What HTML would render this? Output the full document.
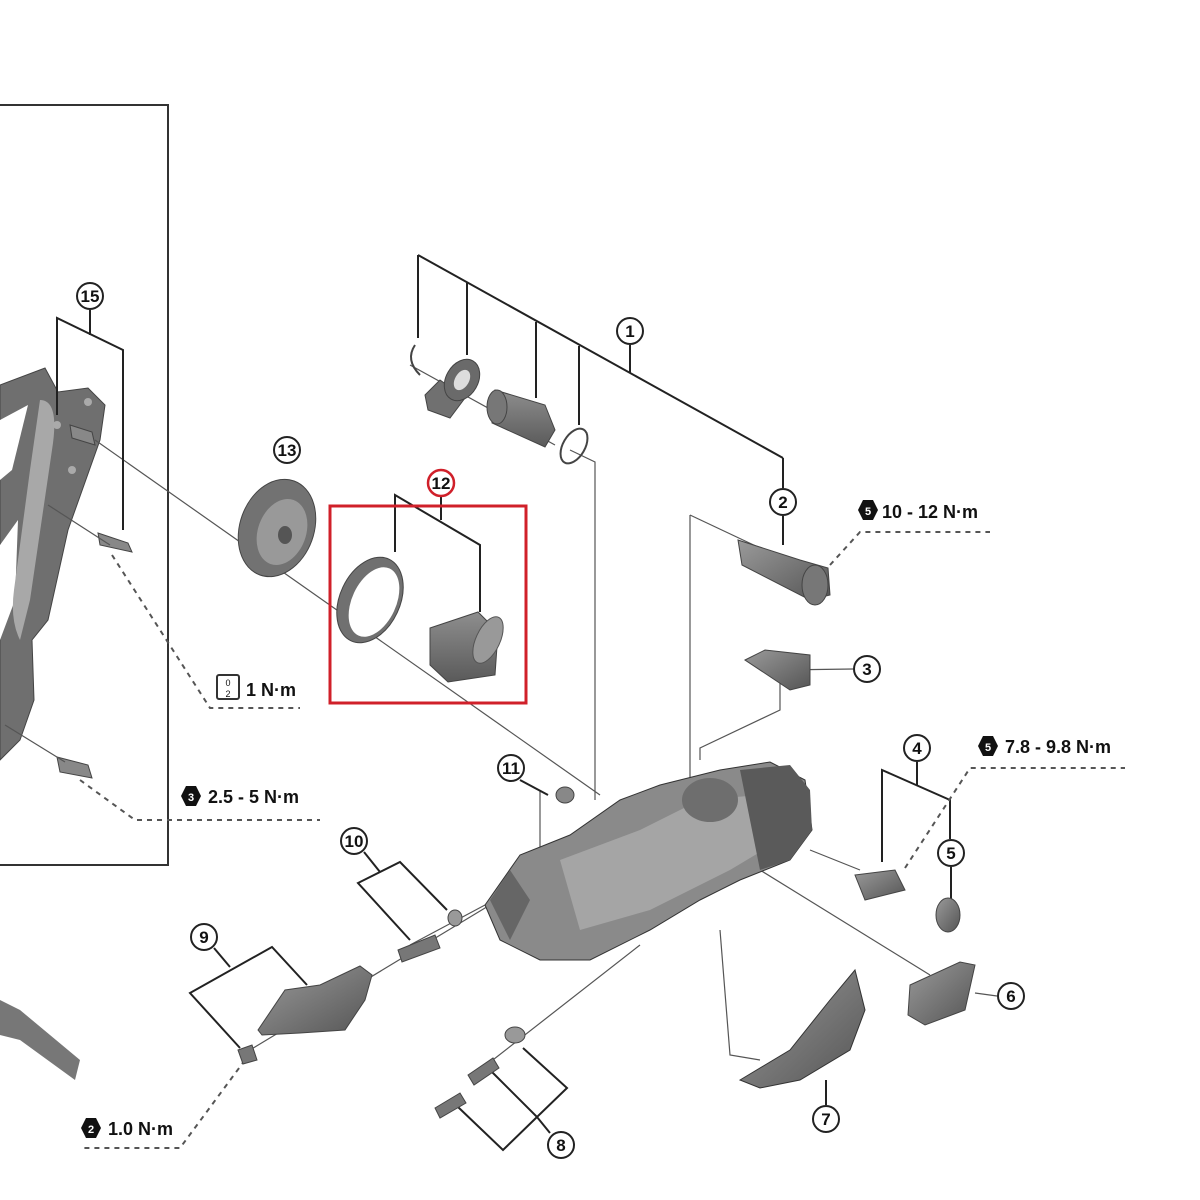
<!DOCTYPE html>
<html><head><style>
html,body{margin:0;padding:0;background:#fff;width:1200px;height:1200px;overflow:hidden}
svg{display:block}
text{font-family:"Liberation Sans",sans-serif}
</style></head><body>
<svg width="1200" height="1200" viewBox="0 0 1200 1200" xmlns="http://www.w3.org/2000/svg">
<defs>
<linearGradient id="g" x1="0" y1="0" x2="1" y2="1"><stop offset="0" stop-color="#9a9a9a"/><stop offset="1" stop-color="#555"/></linearGradient>
<linearGradient id="g2" x1="0" y1="0" x2="0" y2="1"><stop offset="0" stop-color="#8e8e8e"/><stop offset="1" stop-color="#5a5a5a"/></linearGradient>
</defs>
<!-- left box -->
<polyline points="0,105 168,105 168,865 0,865" fill="none" stroke="#333" stroke-width="2"/>
<!-- left cage -->
<path d="M0,385 L45,368 L58,392 L88,388 L105,405 L100,440 L68,530 L48,620 L32,640 L34,700 L20,740 L0,760 Z" fill="#6f6f6f" stroke="#444"/>
<path d="M0,420 L28,405 L12,470 L0,480 Z" fill="#fff"/>
<path d="M0,545 L18,520 L15,600 L0,640 Z" fill="#fff"/>
<path d="M40,400 Q60,400 52,450 L30,600 L20,640 Q10,620 14,590 L30,470 Z" fill="#a8a8a8"/>
<ellipse cx="88" cy="402" rx="4" ry="4" fill="#aaa"/><ellipse cx="57" cy="425" rx="4" ry="4" fill="#aaa"/><ellipse cx="72" cy="470" rx="4" ry="4" fill="#aaa"/>
<path d="M70,425 L92,432 L95,445 L72,438 Z" fill="#888" stroke="#444"/>
<path d="M98,533 L128,543 L132,552 L100,545 Z" fill="#888" stroke="#444"/>
<path d="M57,757 L88,765 L92,778 L60,772 Z" fill="#888" stroke="#444"/>
<path d="M0,1000 L20,1010 L80,1060 L75,1080 L20,1040 L0,1035 Z" fill="#777"/>
<!-- thin leader lines -->
<g stroke="#555" stroke-width="1.2" fill="none">
<line x1="95" y1="440" x2="600" y2="795"/>
<line x1="48" y1="505" x2="110" y2="545"/>
<line x1="5" y1="725" x2="65" y2="762"/>
<line x1="410" y1="365" x2="555" y2="445"/>
<polyline points="570,450 595,462 595,800"/>
<polyline points="690,515 690,820"/>
<line x1="690" y1="515" x2="760" y2="548"/>
<polyline points="700,760 700,748 780,710 780,670 853,669"/>
<line x1="540" y1="790" x2="540" y2="865"/>
<line x1="810" y1="850" x2="860" y2="870"/>
<line x1="760" y1="870" x2="930" y2="975"/>
<line x1="975" y1="993" x2="997" y2="996"/>
<polyline points="720,930 730,1055 760,1060"/>
<line x1="250" y1="1050" x2="490" y2="905"/>
<line x1="410" y1="945" x2="485" y2="905"/>
<line x1="480" y1="1070" x2="640" y2="945"/>
</g>
<g stroke="#222" stroke-width="2" fill="none">
<line x1="418" y1="255" x2="783" y2="458"/>
<polyline points="418,255 418,338"/>
<line x1="467" y1="283" x2="467" y2="355"/>
<line x1="536" y1="322" x2="536" y2="398"/>
<line x1="579" y1="346" x2="579" y2="425"/>
<line x1="630" y1="345" x2="630" y2="373"/>
<polyline points="783,458 783,488"/>
<line x1="783" y1="516" x2="783" y2="545"/>
<polyline points="57,415 57,318 123,350 123,530"/>
<line x1="90" y1="310" x2="90" y2="335"/>
<polyline points="395,552 395,495 480,545 480,612"/>
<line x1="441" y1="497" x2="441" y2="520"/>
<polyline points="882,862 882,770 950,800 950,839"/>
<line x1="917" y1="762" x2="917" y2="786"/>
<line x1="951" y1="867" x2="951" y2="900"/>
<line x1="520" y1="780" x2="548" y2="795"/>
<polyline points="410,940 358,883 400,862 447,910"/>
<line x1="364" y1="852" x2="380" y2="872"/>
<polyline points="240,1048 190,993 272,947 307,985"/>
<line x1="214" y1="948" x2="230" y2="967"/>
<polyline points="523,1048 567,1088 537,1117 492,1072"/>
<polyline points="458,1107 503,1150 537,1117"/>
<line x1="537" y1="1117" x2="550" y2="1133"/>
<line x1="826" y1="1080" x2="826" y2="1105"/>
</g>
<!-- dashed leaders -->
<g stroke="#555" stroke-width="2" stroke-dasharray="5,5" fill="none">
<polyline points="830,565 860,532 990,532"/>
<polyline points="112,555 210,708 300,708"/>
<polyline points="80,780 135,820 320,820"/>
<polyline points="905,868 970,768 1125,768"/>
<polyline points="245,1060 180,1148 80,1148"/>
</g>
<!-- parts 1 -->
<path d="M415,345 Q405,360 420,375" fill="none" stroke="#444" stroke-width="2"/>
<path d="M425,395 L440,380 L465,398 L450,418 L428,410 Z" fill="#707070" stroke="#444"/>
<ellipse cx="462" cy="380" rx="16" ry="22" transform="rotate(30 462 380)" fill="#6a6a6a" stroke="#444"/><ellipse cx="462" cy="380" rx="7" ry="11" transform="rotate(30 462 380)" fill="#ddd"/>
<path d="M495,390 L545,405 L555,430 L545,447 L492,423 Z" fill="url(#g2)" stroke="#444"/>
<ellipse cx="497" cy="407" rx="10" ry="17" fill="#777" stroke="#444"/>
<ellipse cx="574" cy="446" rx="11" ry="19" transform="rotate(30 574 446)" fill="none" stroke="#444" stroke-width="2"/>
<path d="M738,540 L800,560 L828,568 L830,595 L810,600 L742,565 Z" fill="url(#g)" stroke="#444"/>
<ellipse cx="815" cy="585" rx="13" ry="20" fill="#777" stroke="#444"/>
<path d="M745,660 L765,650 L810,655 L810,685 L790,690 Z" fill="url(#g)" stroke="#444"/>
<!-- 13 -->
<ellipse cx="277" cy="528" rx="37" ry="50" transform="rotate(20 277 528)" fill="#727272" stroke="#444"/>
<ellipse cx="282" cy="532" rx="24" ry="34" transform="rotate(20 282 532)" fill="#999"/>
<ellipse cx="285" cy="535" rx="7" ry="9" fill="#555"/>
<!-- 12 -->
<ellipse cx="370" cy="600" rx="30" ry="45" transform="rotate(25 370 600)" fill="#707070" stroke="#444"/>
<ellipse cx="374" cy="602" rx="22" ry="37" transform="rotate(25 374 602)" fill="#fff"/>
<path d="M430,628 L478,612 L498,632 L495,675 L448,682 L430,665 Z" fill="url(#g2)" stroke="#444"/>
<ellipse cx="488" cy="640" rx="12" ry="25" transform="rotate(25 488 640)" fill="#999" stroke="#555"/>
<ellipse cx="565" cy="795" rx="9" ry="8" fill="#888" stroke="#444"/>
<!-- main body -->
<path d="M485,905 L520,855 L570,835 L620,800 L660,785 L720,770 L770,762 L805,780 L812,830 L790,860 L740,880 L700,900 L650,930 L590,960 L540,960 L500,940 Z" fill="#8a8a8a" stroke="#333"/>
<path d="M560,860 L640,830 L700,800 L760,795 L780,840 L730,870 L650,910 L580,930 Z" fill="#a5a5a5"/>
<path d="M740,770 L790,765 L810,790 L812,830 L790,860 L760,870 Z" fill="#5a5a5a"/>
<ellipse cx="710" cy="800" rx="28" ry="22" fill="#6e6e6e"/>
<path d="M490,900 L510,870 L530,900 L510,940 Z" fill="#666"/>
<path d="M855,875 L895,870 L905,890 L865,900 Z" fill="url(#g)" stroke="#444"/>
<ellipse cx="948" cy="915" rx="12" ry="17" fill="url(#g)" stroke="#444"/>
<!-- 10 -->
<path d="M398,950 L435,935 L440,948 L402,962 Z" fill="#777" stroke="#444"/>
<ellipse cx="455" cy="918" rx="7" ry="8" fill="#999" stroke="#444"/>
<!-- 9 -->
<path d="M258,1030 L285,990 L320,985 L360,966 L372,975 L365,1000 L345,1030 L300,1033 L262,1035 Z" fill="url(#g)" stroke="#444"/>
<path d="M238,1050 L252,1045 L257,1060 L243,1064 Z" fill="#777" stroke="#444"/>
<!-- 8 -->
<path d="M435,1108 L460,1093 L466,1103 L440,1118 Z" fill="#777" stroke="#444"/>
<path d="M468,1075 L493,1058 L499,1068 L474,1085 Z" fill="#777" stroke="#444"/>
<ellipse cx="515" cy="1035" rx="10" ry="8" fill="#999" stroke="#444"/>
<!-- 6,7 -->
<path d="M910,985 L960,962 L975,965 L965,1010 L925,1025 L908,1015 Z" fill="url(#g)" stroke="#444"/>
<path d="M740,1080 L790,1050 L830,1000 L855,970 L865,1010 L850,1050 L800,1080 L760,1088 Z" fill="url(#g)" stroke="#333"/>
<!-- red box -->
<rect x="330" y="506" width="196" height="197" fill="none" stroke="#d0202a" stroke-width="3"/>
<!-- circled numbers -->
<g fill="#fff" stroke="#222" stroke-width="2">
<circle cx="90" cy="296" r="13"/><circle cx="287" cy="450" r="13"/><circle cx="630" cy="331" r="13"/>
<circle cx="783" cy="502" r="13"/><circle cx="867" cy="669" r="13"/><circle cx="917" cy="748" r="13"/>
<circle cx="951" cy="853" r="13"/><circle cx="511" cy="768" r="13"/><circle cx="354" cy="841" r="13"/>
<circle cx="204" cy="937" r="13"/><circle cx="1011" cy="996" r="13"/><circle cx="826" cy="1119" r="13"/>
<circle cx="561" cy="1145" r="13"/>
</g>
<circle cx="441" cy="483" r="13" fill="#fff" stroke="#d0202a" stroke-width="2.5"/>
<g font-size="17" font-weight="bold" text-anchor="middle" fill="#111">
<text x="90" y="302">15</text><text x="287" y="456">13</text><text x="441" y="489">12</text>
<text x="630" y="337">1</text><text x="783" y="508">2</text><text x="867" y="675">3</text>
<text x="917" y="754">4</text><text x="951" y="859">5</text><text x="511" y="774">11</text>
<text x="354" y="847">10</text><text x="204" y="943">9</text><text x="1011" y="1002">6</text>
<text x="826" y="1125">7</text><text x="561" y="1151">8</text>
</g>
<!-- torque labels -->
<g fill="#111">
<polygon points="863,500 873,500 878,510 873,520 863,520 858,510"/>
<text x="868" y="515" font-size="11" fill="#fff" font-weight="bold" text-anchor="middle">5</text>
<text x="882" y="518" font-size="18" font-weight="bold">10 - 12 N·m</text>
<polygon points="983,736 993,736 998,746 993,756 983,756 978,746"/>
<text x="988" y="751" font-size="11" fill="#fff" font-weight="bold" text-anchor="middle">5</text>
<text x="1005" y="753" font-size="18" font-weight="bold">7.8 - 9.8 N·m</text>
<polygon points="186,786 196,786 201,796 196,806 186,806 181,796"/>
<text x="191" y="801" font-size="11" fill="#fff" font-weight="bold" text-anchor="middle">3</text>
<text x="208" y="803" font-size="18" font-weight="bold">2.5 - 5 N·m</text>
<polygon points="86,1118 96,1118 101,1128 96,1138 86,1138 81,1128"/>
<text x="91" y="1133" font-size="11" fill="#fff" font-weight="bold" text-anchor="middle">2</text>
<text x="108" y="1135" font-size="18" font-weight="bold">1.0 N·m</text>
<rect x="217" y="675" width="22" height="24" fill="#fff" stroke="#333" stroke-width="2" rx="2"/>
<text x="228" y="686" font-size="9" text-anchor="middle">0</text><text x="228" y="697" font-size="9" text-anchor="middle">2</text>
<text x="246" y="696" font-size="18" font-weight="bold">1 N·m</text>
</g>
</svg>
</body></html>
